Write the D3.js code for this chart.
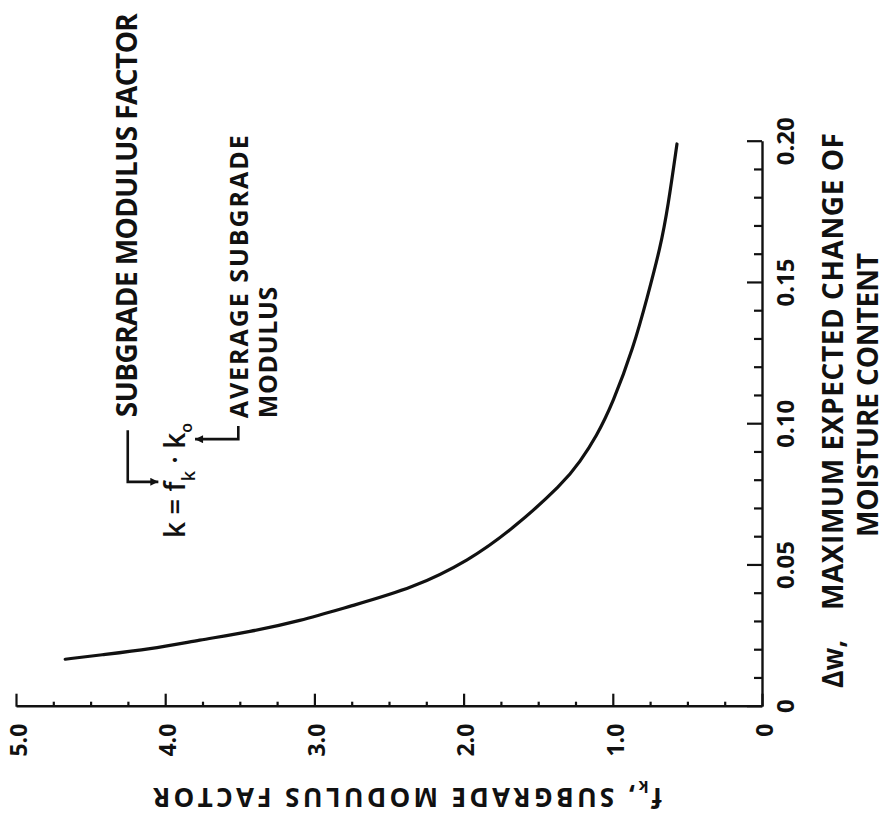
<!DOCTYPE html>
<html><head><meta charset="utf-8">
<script src="https://cdn.jsdelivr.net/npm/d3@7"></script>
<style>
html,body{margin:0;padding:0;background:#fff;}
svg{display:block;background:#fff;}
</style></head><body>
<div id="chart"></div>
<script>
// ---- data ----
const deltaW = [0.0168,0.0183,0.0204,0.0236,0.0265,0.0303,0.0356,0.0419,0.0519,0.0625,0.0791,0.0867,0.0956,0.1074,0.1274,0.1447,0.1628,0.1770,0.1992];
const fkValues = [4.67,4.44,4.10,3.77,3.43,3.10,2.76,2.34,1.96,1.68,1.33,1.22,1.11,1.00,0.86,0.77,0.68,0.63,0.57];
const xTicks = [0,0.05,0.10,0.15,0.20];
const xTickLabels = ["0","0.05","0.10","0.15","0.20"];
const yTicks = [0,1,2,3,4,5];
const yTickLabels = ["0","1.0","2.0","3.0","4.0","5.0"];
const xMinorTicks = [0.01,0.02,0.03,0.04,0.06,0.07,0.08,0.09,0.11,0.12,0.13,0.14,0.16,0.17,0.18,0.19];
const yMinorTicks = [0.25,0.5,0.75,1.25,1.5,1.75,2.25,2.5,2.75,3.25,3.5,3.75,4.25,4.5,4.75];

// annotation anchors in data units
const bracketFactor = [[0.0979,4.251],[0.0796,4.251],[0.0796,4.046]];
const bracketAverage = [[0.0994,3.510],[0.0947,3.510],[0.0947,3.800]];

// ---- layout ----
const W = 887, H = 826;
const FONT = "'Open Sans', 'DejaVu Sans', sans-serif";

const svg = d3.select("#chart").append("svg").attr("width", W).attr("height", H)
  .attr("font-family", FONT).attr("font-weight", 700);
svg.append("rect").attr("width", W).attr("height", H).attr("fill", "#fff");

const defs = svg.append("defs");
defs.append("marker").attr("id","arrow").attr("viewBox","0 0 10 10")
  .attr("refX",10).attr("refY",5).attr("markerWidth",10).attr("markerHeight",8)
  .attr("markerUnits","userSpaceOnUse").attr("orient","auto")
  .append("path").attr("d","M0,0 L10,5 L0,10 z").attr("fill","#111");

// whole chart is drawn in its natural orientation, then turned a quarter turn
const g = svg.append("g").attr("transform", `translate(0,${H}) rotate(-90)`);

const x = d3.scaleLinear().domain([0, 0.2]).range([119.3, 684.3]);
const y = d3.scaleLinear().domain([0, 5]).range([762, 16]);

function styleAxis(sel, fs) {
  sel.attr("font-family", FONT).attr("font-size", fs).attr("font-weight", 700);
  sel.selectAll("path.domain").attr("stroke", "#111").attr("stroke-width", 2.4);
  sel.selectAll(".tick line").attr("stroke", "#111").attr("stroke-width", 2.2);
  sel.selectAll(".tick text").attr("fill", "#111");
}

// x axis (Δw)
g.append("g").attr("transform", `translate(0,${y(0)})`)
  .call(d3.axisBottom(x).tickValues(xMinorTicks).tickSize(-8).tickFormat(""))
  .call(s => { s.select(".domain").remove(); styleAxis(s, 24); });
g.append("g").attr("transform", `translate(0,${y(0)})`)
  .call(d3.axisBottom(x).tickValues(xTicks).tickSizeInner(-15).tickSizeOuter(0)
        .tickPadding(15).tickFormat((d, i) => xTickLabels[i]))
  .call(s => styleAxis(s, 24));

// y axis (fk)
g.append("g").attr("transform", `translate(${x(0)},0)`)
  .call(d3.axisLeft(y).tickValues(yMinorTicks).tickSize(-5).tickFormat(""))
  .call(s => { s.select(".domain").remove(); styleAxis(s, 24); });
g.append("g").attr("transform", `translate(${x(0)},0)`)
  .call(d3.axisLeft(y).tickValues(yTicks).tickSizeInner(-13).tickSizeOuter(0)
        .tickPadding(17).tickFormat((d, i) => yTickLabels[i]))
  .call(s => { styleAxis(s, 23); s.selectAll(".tick text").attr("dy", "0.45em"); });

// curve
const pts = deltaW.map((w, i) => ({w, f: fkValues[i]}));
g.append("path").datum(pts)
  .attr("d", d3.line().x(d => x(d.w)).y(d => y(d.f)).curve(d3.curveBasis))
  .attr("fill", "none").attr("stroke", "#111").attr("stroke-width", 3.2)
  .attr("stroke-linecap", "round");

// axis titles
const yt = g.append("text").attr("transform", "translate(38,662) rotate(-90)")
  .attr("font-size", 26).attr("fill", "#111")
  .attr("textLength", 509).attr("lengthAdjust", "spacing");
yt.append("tspan").text("f");
yt.append("tspan").attr("font-size", 16).attr("dy", 7).text("k");
yt.append("tspan").attr("dy", -7).text(",  SUBGRADE  MODULUS  FACTOR");

g.append("text").attr("x", 138).attr("y", 843).attr("font-size", 28).attr("fill", "#111")
  .attr("textLength", 48).attr("lengthAdjust", "spacingAndGlyphs").text("Δw,");
g.append("text").attr("x", 216).attr("y", 843).attr("font-size", 28).attr("fill", "#111")
  .attr("textLength", 477).attr("lengthAdjust", "spacing").text("MAXIMUM EXPECTED CHANGE OF");
g.append("text").attr("x", 289).attr("y", 878).attr("font-size", 28).attr("fill", "#111")
  .attr("textLength", 284).attr("lengthAdjust", "spacing").text("MOISTURE CONTENT");

// annotations
g.append("text").attr("x", x(0.1025)).attr("y", y(4.189)).attr("font-size", 28).attr("fill", "#111")
  .attr("textLength", 404).attr("lengthAdjust", "spacing").text("SUBGRADE MODULUS FACTOR");
g.append("text").attr("x", x(0.1021)).attr("y", y(3.443)).attr("font-size", 25).attr("fill", "#111")
  .attr("textLength", 283).attr("lengthAdjust", "spacing").text("AVERAGE SUBGRADE");
g.append("text").attr("x", x(0.1021)).attr("y", y(3.253)).attr("font-size", 25).attr("fill", "#111")
  .attr("textLength", 131.6).attr("lengthAdjust", "spacing").text("MODULUS");

const fm = g.append("text").attr("x", x(0.0597)).attr("y", y(3.867)).attr("font-size", 28)
  .attr("fill", "#111").attr("font-weight", 600)
  .attr("textLength", 115).attr("lengthAdjust", "spacing");
fm.append("tspan").text("k = f");
fm.append("tspan").attr("font-size", 18).attr("dy", 10).text("k");
fm.append("tspan").attr("dy", -10).text(" · k");
fm.append("tspan").attr("font-size", 16).attr("dy", 7).text("o");

const bl = d3.line().x(d => x(d[0])).y(d => y(d[1]));
[bracketFactor, bracketAverage].forEach(b => {
  g.append("path").attr("d", bl(b)).attr("fill", "none").attr("stroke", "#111")
    .attr("stroke-width", 2.6).attr("marker-end", "url(#arrow)");
});
</script>
</body></html>
